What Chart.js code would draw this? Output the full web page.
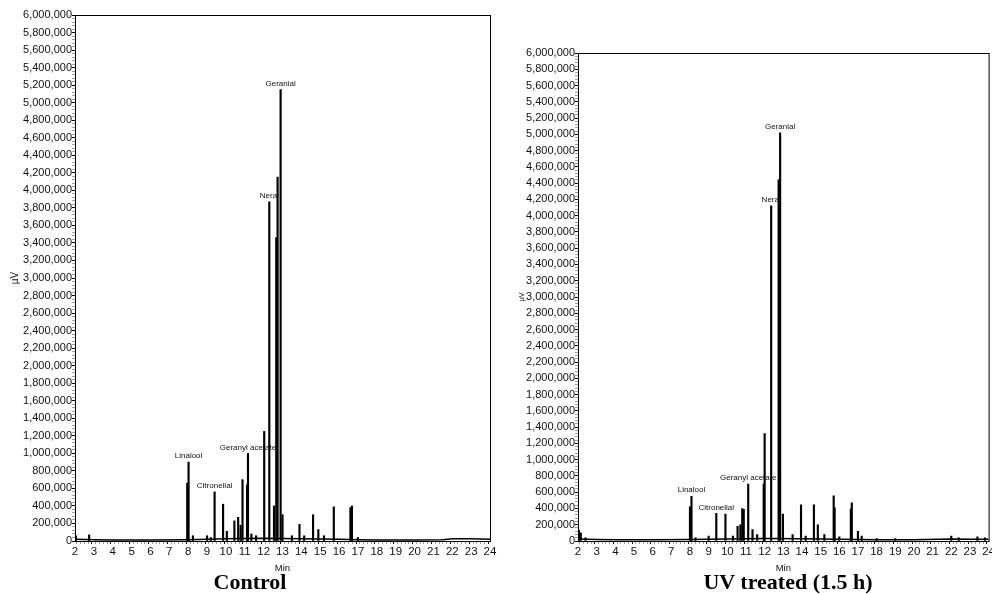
<!DOCTYPE html>
<html>
<head>
<meta charset="utf-8">
<script src="https://cdn.jsdelivr.net/npm/chart.js@4.4.0/dist/chart.umd.min.js"></script>
<style>
    html, body { margin: 0; padding: 0; background: #fff; overflow: hidden; width: 992px; height: 594px; }
    #wrap { position: relative; width: 992px; height: 594px; overflow: hidden; }
    .box { position: absolute; top: 0; height: 575px; }
    #leftBox { left: 0; width: 500px; }
    #rightBox { left: 495px; width: 501px; }
    .caption {
        position: absolute; top: 569px; transform: translateX(-50%);
        font-family: "Liberation Serif", "Times New Roman", serif;
        font-weight: bold; font-size: 22px; color: #000; white-space: nowrap;
    }
</style>
</head>
<body>
<div id="wrap">
    <div class="box" id="leftBox"><canvas id="controlChart"></canvas></div>
    <div class="box" id="rightBox"><canvas id="uvChart"></canvas></div>
    <div class="caption" style="left:250px">Control</div>
    <div class="caption" style="left:788px">UV treated (1.5 h)</div>
</div>
<script>
// retention time (min) and signal (µV) of the peaks
const controlPeakTimes = [2.05, 2.75, 7.95, 8.02, 8.25, 9.0, 9.2, 9.4, 9.85, 10.05, 10.45, 10.65, 10.78, 10.88, 11.12, 11.17, 11.35, 11.6, 12.03, 12.3, 12.55, 12.67, 12.74, 12.9, 13.0, 13.5, 13.9, 14.15, 14.62, 14.9, 15.2, 15.72, 16.6, 16.68, 17.0];
const controlPeakHeights = [60000, 70000, 660000, 900000, 60000, 60000, 40000, 560000, 420000, 110000, 230000, 270000, 180000, 700000, 640000, 1000000, 80000, 60000, 1250000, 3870000, 400000, 3460000, 4150000, 5150000, 300000, 60000, 190000, 60000, 300000, 130000, 60000, 390000, 380000, 400000, 40000];
const controlBaseTimes = [2, 3, 4, 6, 8, 10, 12, 14, 16, 17, 18, 20, 21.5, 22, 23, 24];
const controlBaseValues = [20000, 15000, 12000, 12000, 15000, 25000, 30000, 25000, 20000, 15000, 12000, 12000, 15000, 25000, 25000, 20000];

const uvPeakTimes = [2.05, 2.15, 2.4, 8.0, 8.08, 8.3, 9.0, 9.41, 9.9, 10.3, 10.55, 10.7, 10.8, 10.88, 11.12, 11.35, 11.6, 11.95, 12.0, 12.35, 12.75, 12.83, 12.98, 13.5, 13.95, 14.2, 14.64, 14.85, 15.2, 15.7, 15.75, 16.0, 16.62, 16.67, 17.0, 17.2, 18.0, 19.0, 22.0, 22.4, 23.4, 23.8];
const uvPeakHeights = [130000, 100000, 40000, 420000, 550000, 40000, 60000, 340000, 330000, 60000, 180000, 200000, 400000, 390000, 700000, 140000, 80000, 700000, 1320000, 4120000, 4440000, 5020000, 330000, 80000, 445000, 60000, 445000, 200000, 80000, 556000, 408000, 50000, 395000, 470000, 120000, 60000, 30000, 30000, 60000, 40000, 50000, 40000];
const uvBaseTimes = [2, 3, 4, 6, 8, 10, 12, 14, 16, 17, 18, 20, 22, 23, 24];
const uvBaseValues = [25000, 18000, 15000, 15000, 18000, 25000, 30000, 28000, 22000, 18000, 15000, 15000, 25000, 22000, 20000];

const peakNames = ['Linalool', 'Citronellal', 'Geranyl acetate', 'Neral', 'Geranial'];
const controlNameTimes = [8.02, 9.4, 11.17, 12.3, 12.9];
const controlNameHeights = [900000, 560000, 1000000, 3870000, 5150000];
const uvNameTimes = [8.08, 9.41, 11.12, 12.35, 12.83];
const uvNameHeights = [550000, 340000, 700000, 4120000, 5020000];

const FONT = '"Liberation Sans", Arial, sans-serif';

const frameAndNames = {
    id: 'frameAndNames',
    afterDatasetsDraw(chart, args, opts) {
        const ctx = chart.ctx;
        const a = chart.chartArea;
        const x = chart.scales.x, y = chart.scales.y;
        ctx.save();
        ctx.strokeStyle = '#000';
        ctx.lineWidth = 1;
        ctx.strokeRect(a.left + 0.5, a.top + 0.5, a.right - a.left, a.bottom - a.top);
        ctx.font = '8px ' + FONT;
        ctx.fillStyle = '#111';
        ctx.textAlign = 'center';
        ctx.textBaseline = 'bottom';
        opts.names.forEach((name, i) => {
            ctx.fillText(name, x.getPixelForValue(opts.times[i]), y.getPixelForValue(opts.values[i]) - 2);
        });
        ctx.restore();
    }
};

function isWhole(c) {
    if (!c.tick) return true;
    const v = c.tick.value;
    return Math.abs(v - Math.round(v)) < 1e-6;
}

function isMajorY(c) {
    if (!c.tick) return true;
    return c.tick.value % 200000 === 0;
}

function makeChromatogram(id, peakT, peakV, baseT, baseV, nameT, nameV, topPad, rightPad, yWidth, yTitleSize, yTitlePad) {
    const ctx = document.getElementById(id).getContext('2d');
    return new Chart(ctx, {
        type: 'bar',
        data: {
            datasets: [
                {
                    type: 'bar',
                    data: peakT.map((t, i) => ({ x: t, y: peakV[i] })),
                    backgroundColor: '#000',
                    borderWidth: 0,
                    barThickness: 1.5
                },
                {
                    type: 'line',
                    data: baseT.map((t, i) => ({ x: t, y: baseV[i] })),
                    borderColor: '#000',
                    borderWidth: 1.5,
                    pointRadius: 0,
                    tension: 0
                }
            ]
        },
        options: {
            responsive: true,
            maintainAspectRatio: false,
            animation: false,
            layout: { padding: { left: 0, top: topPad, right: rightPad, bottom: 0 } },
            plugins: {
                legend: { display: false },
                tooltip: { enabled: false },
                frameAndNames: { names: peakNames, times: nameT, values: nameV }
            },
            scales: {
                x: {
                    type: 'linear',
                    min: 2,
                    max: 24,
                    offset: false,
                    border: { display: true, color: '#000', width: 1 },
                    grid: {
                        drawOnChartArea: false,
                        tickLength: 3,
                        tickColor: c => isWhole(c) ? '#000' : '#777',
                        tickWidth: c => isWhole(c) ? 1 : 0.7
                    },
                    ticks: {
                        stepSize: 0.2,
                        autoSkip: false,
                        maxRotation: 0,
                        padding: 1,
                        color: '#111',
                        font: { family: FONT, size: 11.5 },
                        callback: v => Math.abs(v - Math.round(v)) < 1e-6 ? String(Math.round(v)) : ''
                    },
                    title: {
                        display: true,
                        text: 'Min',
                        color: '#111',
                        font: { family: FONT, size: 9.5 },
                        padding: { top: 0, bottom: 1 }
                    },
                    afterFit: s => { s.height = 34; }
                },
                y: {
                    min: 0,
                    max: 6000000,
                    border: { display: true, color: '#000', width: 1 },
                    grid: {
                        drawOnChartArea: false,
                        tickLength: 3,
                        tickColor: c => isMajorY(c) ? '#000' : '#777',
                        tickWidth: c => isMajorY(c) ? 1 : 0.7
                    },
                    ticks: {
                        stepSize: 40000,
                        autoSkip: false,
                        padding: 0,
                        color: '#111',
                        font: { family: FONT, size: 11 },
                        callback: v => v % 200000 === 0 ? v.toLocaleString('en-US') : ''
                    },
                    title: {
                        display: true,
                        text: 'µV',
                        color: '#111',
                        font: { family: FONT, size: yTitleSize },
                        padding: { top: yTitlePad, bottom: 0 }
                    },
                    afterFit: s => { s.width = yWidth; }
                }
            }
        },
        plugins: [frameAndNames]
    });
}

document.addEventListener('DOMContentLoaded', function () {
    makeChromatogram('controlChart', controlPeakTimes, controlPeakHeights, controlBaseTimes, controlBaseValues,
        controlNameTimes, controlNameHeights, 15, 10, 75, 10, 9);
    makeChromatogram('uvChart', uvPeakTimes, uvPeakHeights, uvBaseTimes, uvBaseValues,
        uvNameTimes, uvNameHeights, 53, 0, 83, 7, 23);
});
</script>
</body>
</html>
